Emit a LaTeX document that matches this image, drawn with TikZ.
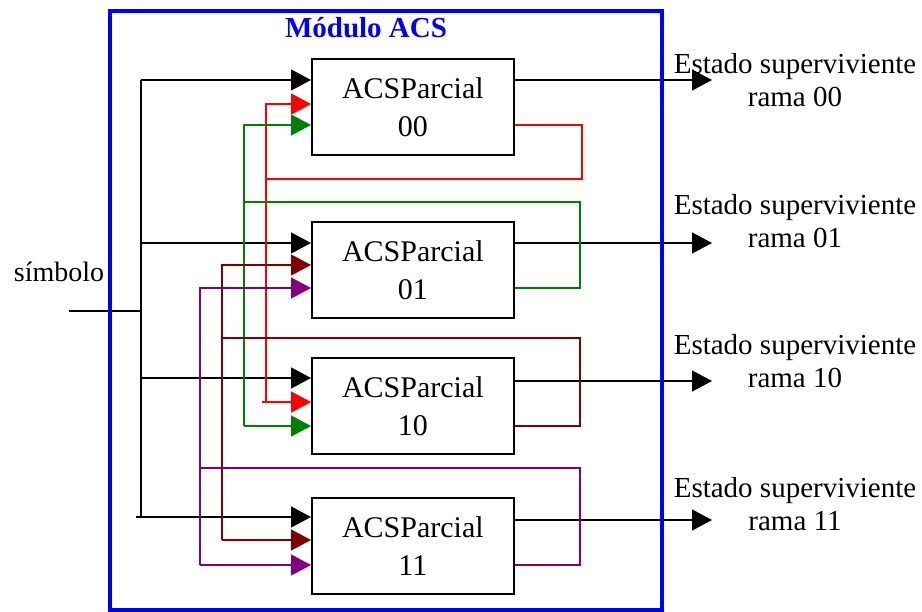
\documentclass[tikz,border=0pt]{standalone}
\usepackage{fontspec}
\setmainfont{Liberation Serif}
\usetikzlibrary{arrows.meta}
\definecolor{cred}{RGB}{255,0,0}
\definecolor{cgreen}{RGB}{0,128,0}
\definecolor{cmaroon}{RGB}{128,0,0}
\definecolor{cpurple}{RGB}{128,0,128}
\definecolor{cblue}{RGB}{0,0,255}
\begin{document}
\begin{tikzpicture}[x=1pt,y=-1pt,
  acsbox/.style={draw=black, line width=1.8pt, minimum width=202pt, minimum height=96pt, inner sep=0pt, align=center, font=\fontsize{30}{38}\selectfont, anchor=north west},
  wire/.style={line width=1.2pt},
  tip/.style={-{Triangle[length=20pt,width=21pt]}},
  lbl/.style={font=\fontsize{29}{33}\selectfont, align=center, inner sep=0pt},
]
\useasboundingbox (0,0) rectangle (922,612);
\fill[white] (0,0) rectangle (922,612);

% boxes
\node[acsbox] (b00) at (311,58) {ACSParcial\\00};
\node[acsbox] (b01) at (311,221) {ACSParcial\\01};
\node[acsbox] (b10) at (311,357) {ACSParcial\\10};
\node[acsbox] (b11) at (311,497) {ACSParcial\\11};

% input ports
\coordinate (b00i1) at (311,80);  \coordinate (b00i2) at (311,104); \coordinate (b00i3) at (311,125);
\coordinate (b01i1) at (311,243); \coordinate (b01i2) at (311,265); \coordinate (b01i3) at (311,288);
\coordinate (b10i1) at (311,378); \coordinate (b10i2) at (311,402); \coordinate (b10i3) at (311,426);
\coordinate (b11i1) at (311,517); \coordinate (b11i2) at (311,540); \coordinate (b11i3) at (311,565);

% outputs
\coordinate (o00) at (712,80);
\coordinate (o01) at (712,243);
\coordinate (o10) at (712,381);
\coordinate (o11) at (712,520);
\draw[wire,tip] (b00.east |- o00) -- (o00);
\draw[wire,tip] (b01.east |- o01) -- (o01);
\draw[wire,tip] (b10.east |- o10) -- (o10);
\draw[wire,tip] (b11.east |- o11) -- (o11);

% symbol input and bus
\node[font=\fontsize{28}{30}\selectfont, anchor=base, inner sep=0pt] (sym) at (59,282) {símbolo};
\coordinate (symin) at (69,311);
\coordinate (busT) at (141,80);
\coordinate (busB) at (141,517);
\draw[wire] (symin) -- (busT |- symin);
\draw[wire] (busT) -- (busB);
\draw[wire,tip] (busT) -- (b00i1);
\draw[wire,tip] (busT |- b01i1) -- (b01i1);
\draw[wire,tip] (busT |- b10i1) -- (b10i1);
\draw[wire,tip] (136,517) -- (b11i1);

% red feedback (00)
\draw[wire,cred] (b00.east |- b00i3) -- (582,125) -- (582,179) -- (266,179);
\draw[wire,cred,tip] (266,402) -- (266,104) -- (b00i2);
\draw[wire,cred,tip] (262,402) -- (b10i2);

% green feedback (01)
\draw[wire,cgreen] (b01.east |- b01i3) -- (580,288) -- (580,202) -- (244,202);
\draw[wire,cgreen,tip] (244,426) -- (244,125) -- (b00i3);
\draw[wire,cgreen,tip] (244,426) -- (b10i3);

% maroon feedback (10)
\draw[wire,cmaroon] (b10.east |- b10i3) -- (580,426) -- (580,338) -- (222,338);
\draw[wire,cmaroon,tip] (222,540) -- (222,265) -- (b01i2);
\draw[wire,cmaroon,tip] (222,540) -- (b11i2);

% purple feedback (11)
\draw[wire,cpurple] (b11.east |- b11i3) -- (580,565) -- (580,468) -- (200,468);
\draw[wire,cpurple,tip] (200,565) -- (200,288) -- (b01i3);
\draw[wire,cpurple,tip] (200,565) -- (b11i3);

% module frame
\draw[cblue, line width=4pt] (110,11) rectangle (662,610);
\node[font=\fontsize{29}{30}\selectfont\bfseries, text=cblue, anchor=base, inner sep=0pt] (title) at (366,38) {Módulo ACS};

% output labels (anchor base = last line)
\node[lbl, anchor=base] (l00) at (795,107) {Estado superviviente\\rama 00};
\node[lbl, anchor=base] (l01) at (795,248) {Estado superviviente\\rama 01};
\node[lbl, anchor=base] (l10) at (795,388) {Estado superviviente\\rama 10};
\node[lbl, anchor=base] (l11) at (795,530) {Estado superviviente\\rama 11};
\end{tikzpicture}
\end{document}
